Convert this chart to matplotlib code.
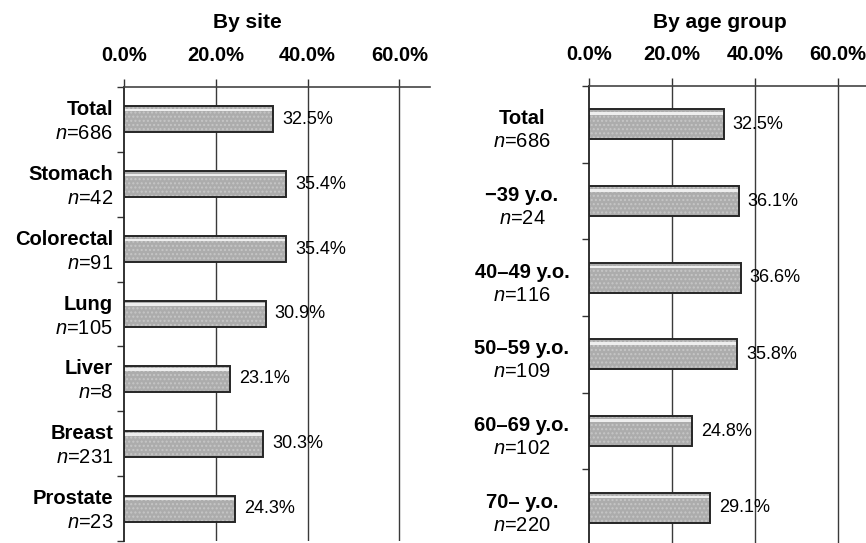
import matplotlib.pyplot as plt
import numpy as np

plt.rcParams['font.family'] = ['Liberation Sans', 'DejaVu Sans']
plt.rcParams['mathtext.fontset'] = 'custom'
plt.rcParams['mathtext.rm'] = 'Liberation Sans'
plt.rcParams['mathtext.it'] = 'Liberation Sans:italic'

# survey proportions by cancer site
site_names = ['Total', 'Stomach', 'Colorectal', 'Lung', 'Liver', 'Breast', 'Prostate']
site_n = [686, 42, 91, 105, 8, 231, 23]
site_pct = [32.5, 35.4, 35.4, 30.9, 23.1, 30.3, 24.3]

# same measure by age group
age_names = ['Total', '\u221239 y.o.', '40\u201349 y.o.', '50\u201359 y.o.', '60\u201369 y.o.', '70\u2013 y.o.']
age_n = [686, 24, 116, 109, 102, 220]
age_pct = [32.5, 36.1, 36.6, 35.8, 24.8, 29.1]

xticks = [0, 20, 40, 60]

fig = plt.figure(figsize=(8.66, 5.43), dpi=100)
ax1 = fig.add_axes([124 / 866, 1 - 541 / 543, 306 / 866, 454 / 543])
ax2 = fig.add_axes([589 / 866, 1 - 546 / 543, 277 / 866, 460 / 543])


def draw_panel(ax, names, counts, values, xmax, bar_h, lab_x, lab_ha, lab_dy, gap):
    k = len(names)
    y = np.arange(k)
    ax.set_xlim(0, xmax)
    ax.set_ylim(k - 0.5, -0.5)
    for x in xticks[1:]:
        ax.axvline(x, color='#3a3a3a', lw=1.0, zorder=1)
    # grainy grey fill, then dark outline
    ax.barh(y, values, height=bar_h, color='#acacac', edgecolor='none', zorder=2)
    ax.barh(y, values, height=bar_h, color='none', edgecolor='#c6c6c6', hatch='....', lw=0, zorder=3)
    ax.barh(y - bar_h * 0.36, values, height=bar_h * 0.09, color='#eeeeee', edgecolor='none', zorder=3)
    ax.barh(y, values, height=bar_h, color='none', edgecolor='#262626', lw=1.4, zorder=4)
    for yi, v in zip(y, values):
        ax.annotate('%.1f%%' % v, xy=(v, yi), xytext=(9, 0), textcoords='offset pixels',
                    ha='left', va='center', fontsize=13, zorder=5)
    for yi, name, cnt in zip(y, names, counts):
        ax.annotate(name, xy=(0, yi), xytext=(lab_x, lab_dy + gap / 2), textcoords='offset pixels',
                    ha=lab_ha, va='center', fontsize=14.5, fontweight='bold', annotation_clip=False)
        ax.annotate(r'$\mathit{n}$=%d' % cnt, xy=(0, yi), xytext=(lab_x, lab_dy - gap / 2),
                    textcoords='offset pixels', ha=lab_ha, va='center', fontsize=14.5,
                    annotation_clip=False)

    ax.xaxis.tick_top()
    ax.set_xticks(xticks)
    ax.set_xticklabels(['%.1f%%' % t for t in xticks], fontsize=14.5, fontweight='bold')
    ax.tick_params(axis='x', direction='out', length=6, width=1, pad=10, color='#333333')
    ax.set_yticks([])
    ax.set_yticks(np.arange(k + 1) - 0.5, minor=True)
    ax.tick_params(axis='y', which='minor', direction='out', length=5, width=1, color='#333333')
    for s in ['right', 'bottom']:
        ax.spines[s].set_visible(False)
    ax.spines['left'].set_color('#222222')
    ax.spines['left'].set_linewidth(1.3)
    ax.spines['top'].set_color('#444444')
    ax.spines['top'].set_linewidth(1.2)


draw_panel(ax1, site_names, site_n, site_pct, 66.7, 0.40, -11, 'right', -2, 24)
draw_panel(ax2, age_names, age_n, age_pct, 66.8, 0.39, -67, 'center', -6, 23)

fig.text(247 / 866, 1 - 23 / 543, 'By site', ha='center', va='center', fontsize=15, fontweight='bold')
fig.text(720 / 866, 1 - 22 / 543, 'By age group', ha='center', va='center', fontsize=15, fontweight='bold')

plt.savefig('out.png', dpi=100)
